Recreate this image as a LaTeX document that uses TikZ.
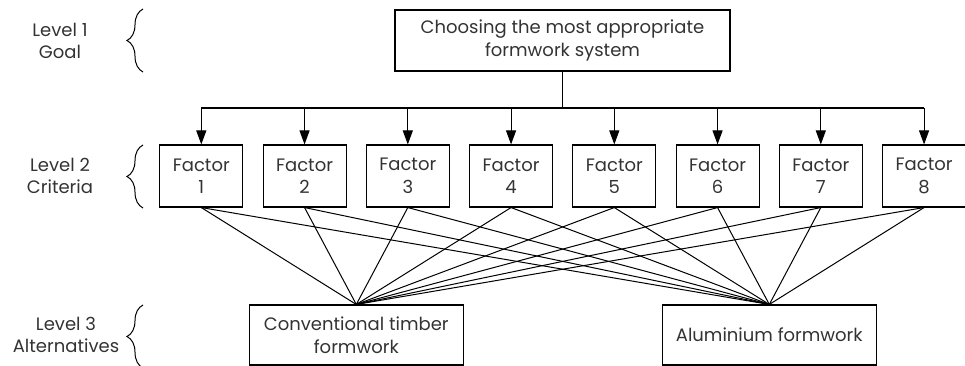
\documentclass[tikz,border=0pt]{standalone}
\usepackage{fontspec}
\setmainfont{Poppins}
\usetikzlibrary{arrows.meta,decorations.pathreplacing}
\definecolor{txt}{HTML}{333333}
\begin{document}
\begin{tikzpicture}[x=1pt,y=-1pt,
  every node/.style={font=\fontsize{18}{22.5}\selectfont, text=txt},
  box/.style={draw, line width=1.1pt, inner sep=0pt, align=center},
  factor/.style={box, minimum width=83pt, minimum height=62pt},
  alt/.style={box, minimum width=214pt, minimum height=60pt},
  lvl/.style={align=center, inner sep=0pt},
  conn/.style={line width=1pt},
  arr/.style={line width=1.1pt, -{Triangle[length=14pt,width=10pt]}},
  lbrace/.style={line width=1pt, decorate, decoration={brace, amplitude=16pt}}]
\useasboundingbox (0,0) rectangle (965,366);

\node[box, minimum width=335pt, minimum height=61pt] (goal) at (562.5,40.5)
  {Choosing the most appropriate\\formwork system};

\foreach \i in {1,...,8} {
  \node[factor] (f\i) at ({201.3+(\i-1)*103.25},176) {Factor\\\i};
}

\node[alt] (conv) at (356.3,335) {Conventional timber\\formwork};
\node[alt] (alu) at (769.3,335) {Aluminium formwork};

\coordinate (bus) at (562.5,108);
\draw[line width=1.1pt] (goal.south) -- (bus);
\draw[line width=1.1pt] (f1.north |- bus) -- (f8.north |- bus);
\foreach \i in {1,...,8} {
  \draw[arr] (f\i.north |- bus) -- (f\i.north);
}

\foreach \i in {1,...,8} {
  \draw[conn] (f\i.south) -- (conv.north);
  \draw[conn] (f\i.south) -- (alu.north);
}

\node[lvl] (l1) at (60,41) {Level 1\\Goal};
\node[lvl] (l2) at (60,176) {Level 2\\Criteria};
\node[lvl] (l3) at (66,335) {Level 3\\Alternatives};

\coordinate (b1s) at (143,72);
\coordinate (b1e) at (143,9);
\coordinate (b2s) at (143,208);
\coordinate (b2e) at (143,145);
\coordinate (b3s) at (143,368);
\coordinate (b3e) at (143,305);
\draw[lbrace] (b1s) -- (b1e);
\draw[lbrace] (b2s) -- (b2e);
\draw[lbrace] (b3s) -- (b3e);
\end{tikzpicture}
\end{document}
